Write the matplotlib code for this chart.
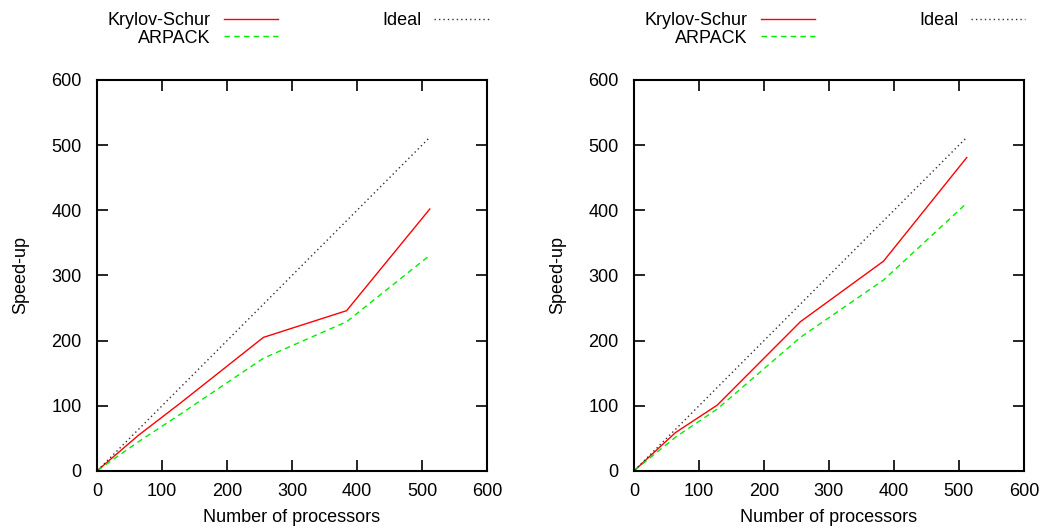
import matplotlib.pyplot as plt
import numpy as np

plt.rcParams['font.family'] = ['Liberation Sans', 'DejaVu Sans']
plt.rcParams['font.size'] = 13

procs = [1, 64, 128, 256, 384, 512]
ideal = [1, 64, 128, 256, 384, 512]

# left panel
ks_left = [1, 55, 104, 205, 246, 402]
arpack_left = [1, 45, 87, 173, 229, 331]

# right panel
ks_right = [1, 59, 101, 229, 322, 481]
arpack_right = [1, 52, 95, 205, 293, 411]

fig = plt.figure(figsize=(10.41, 5.28), dpi=100)
ax1 = fig.add_axes([0.0932, 0.108, 0.3746, 0.7405])
ax2 = fig.add_axes([0.609, 0.108, 0.3746, 0.7405])

for ax, ks, ar in [(ax1, ks_left, arpack_left), (ax2, ks_right, arpack_right)]:
    l1, = ax.plot(procs, ks, color='#ff0000', lw=1.0, label='Krylov-Schur')
    l2, = ax.plot(procs, ar, color='#00ee00', lw=1.0, ls=(0, (4, 3)), label='ARPACK')
    l3, = ax.plot(procs, ideal, color='#333333', lw=1.0, ls=(0, (1, 2.2)), label='Ideal')
    ax.set_xlim(0, 600)
    ax.set_ylim(0, 600)
    ax.set_xticks(np.arange(0, 601, 100))
    ax.set_yticks(np.arange(0, 601, 100))
    ax.tick_params(direction='in', top=True, right=True, length=8, width=1.2)
    ax.tick_params(axis='x', pad=9)
    ax.tick_params(axis='y', pad=11)
    for s in ax.spines.values():
        s.set_linewidth(1.5)
    ax.set_xlabel('Number of processors', labelpad=6)
    ax.set_ylabel('Speed-up', labelpad=16)
    ax.legend(handles=[l1, l2, l3], ncol=2, markerfirst=False, frameon=False,
              loc='lower left', bbox_to_anchor=(0.028, 1.085), borderaxespad=0,
              borderpad=0, handlelength=3.0, handletextpad=0.7, columnspacing=5.8,
              labelspacing=0.05)

plt.savefig('out.png', dpi=100)
